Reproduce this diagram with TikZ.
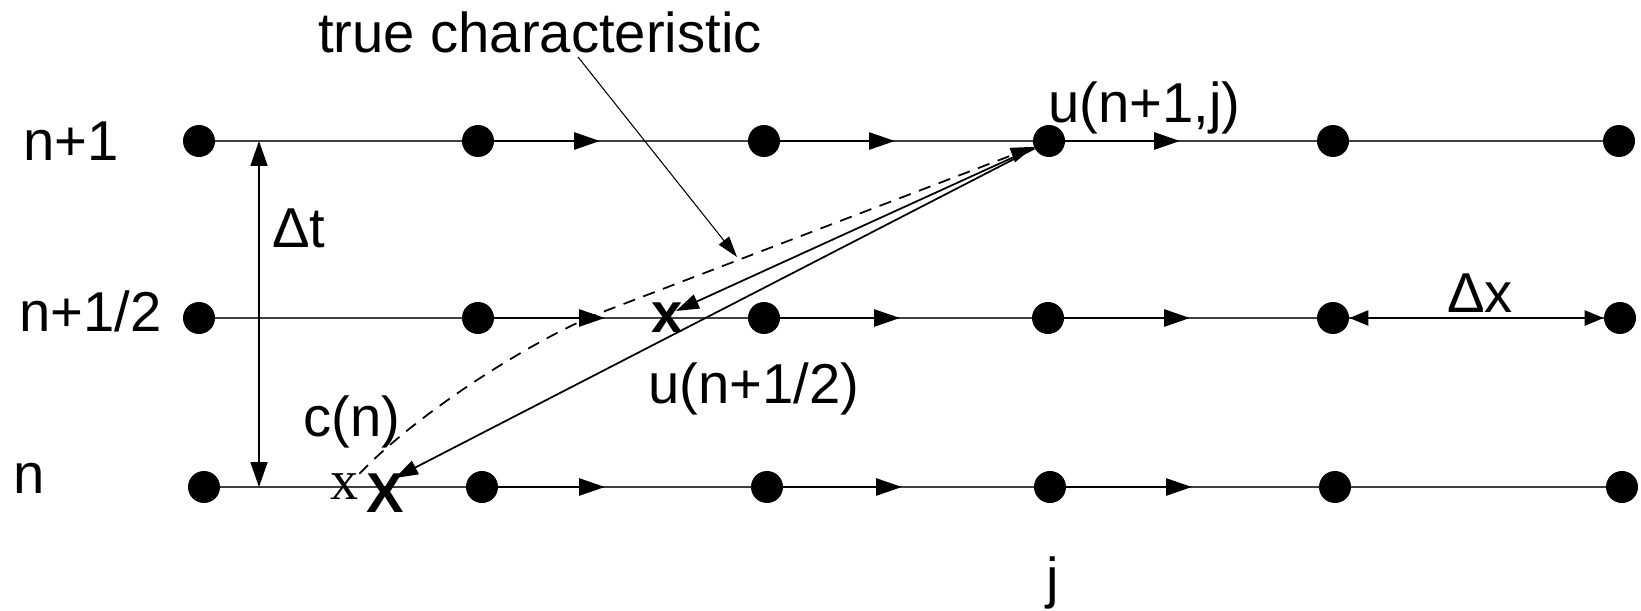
\documentclass[tikz,border=0pt]{standalone}
\usepackage{fontspec}
\setmainfont{Liberation Sans}
\newfontfamily\serifx{Liberation Serif}
\usetikzlibrary{arrows.meta,backgrounds}
\begin{document}
\begin{tikzpicture}[x=0.02cm,y=-0.02cm,
  dot/.style={circle,fill=black,inner sep=0,minimum size=0.64cm},
  rowline/.style={line width=1pt,black!75},
  seg/.style={line width=1.6pt,-{Triangle[length=0.52cm,width=0.34cm]}},
  charln/.style={line width=1pt,-{Triangle[length=0.46cm,width=0.3cm]}},
  dimln/.style={line width=1pt,{Triangle[length=0.5cm,width=0.34cm]}-{Triangle[length=0.5cm,width=0.34cm]}},
  dimx/.style={line width=1.4pt,{Triangle[length=0.38cm,width=0.3cm]}-{Triangle[length=0.38cm,width=0.3cm]}},
  leader/.style={line width=0.6pt,-{Triangle[length=0.42cm,width=0.26cm]}},
  lbl/.style={inner sep=0,font=\fontsize{32}{38}\selectfont},
]
\useasboundingbox (0,0) rectangle (1641,611);

% grid dots
\foreach \x [count=\i from 0] in {199,478,764,1049,1333,1619} \node[dot] (a\i) at (\x,141) {};
\foreach \x [count=\i from 0] in {199,478,764,1048,1333,1620} \node[dot] (b\i) at (\x,318) {};
\foreach \x [count=\i from 0] in {204,482,767,1050,1335,1622} \node[dot] (c\i) at (\x,487) {};

% arrow tip coordinates on rows
\coordinate (ta1) at (600,141); \coordinate (ta2) at (895,141); \coordinate (ta3) at (1180,141);
\coordinate (tb1) at (605,318); \coordinate (tb2) at (900,318); \coordinate (tb3) at (1190,318);
\coordinate (tc1) at (605,487); \coordinate (tc2) at (902,487); \coordinate (tc3) at (1192,487);

\begin{scope}[on background layer]
  \draw[rowline] (a0.center) -- (a5.center);
  \draw[rowline] (b0.center) -- (b5.center);
  \draw[rowline] (c0.center) -- (c5.center);
  \foreach \r in {a,b,c}{
    \draw[seg] (\r1.center) -- (t\r1);
    \draw[seg] (\r2.center) -- (t\r2);
    \draw[seg] (\r3.center) -- (t\r3);
  }
\end{scope}

% labels
\node[lbl,anchor=base west] (ln1) at (23,161) {n+1};
\node[lbl,anchor=base west] (lnh) at (19,332) {n+1/2};
\node[lbl,anchor=base west] (ln) at (13,493) {n};
\node[lbl,anchor=base] (tc) at (540,53) {true characteristic};
\node[lbl,anchor=base west] (unj) at (1048,123) {u(n+1,j)};
\node[lbl,anchor=base west] (unh) at (648,403) {u(n+1/2)};
\node[lbl,anchor=base west] (cn) at (303,437) {c(n)};
\node[lbl,anchor=base west] (lj) at (1046,597) {j};
\node[lbl,anchor=base west] (dt) at (272,248) {Δt};
\node[lbl,anchor=base west] (dx) at (1447,313) {Δx};

% markers
\node[inner sep=0,anchor=base,font=\serifx\fontsize{32}{38}\selectfont] (sx) at (345,500) {x};
\node[lbl,anchor=base,font=\bfseries\fontsize{32}{38}\selectfont] (bX) at (385,512) {X};
\node[lbl,anchor=base,font=\bfseries\fontsize{32}{38}\selectfont] (bx) at (667,333) {x};

% dimension arrows
\coordinate (dtTop) at (259,141);
\coordinate (dtBot) at (259,487);
\draw[dimln] (dtBot) -- (dtTop);
\draw[dimx] (b4) -- (b5);

% characteristic lines
\coordinate (Xtip) at (395,478);
\coordinate (xtip) at (676,311);
\draw[charln] (a3) -- (Xtip);
\draw[charln] (a3) -- (xtip);
\draw[charln,dash pattern=on 7pt off 5pt] (sx.north east) .. controls (415,415) and (530,341) .. (600,313) -- (a3);

% leader
\coordinate (ls) at (578,57);
\coordinate (le) at (737,257);
\draw[leader] (ls) -- (le);
\end{tikzpicture}
\end{document}
